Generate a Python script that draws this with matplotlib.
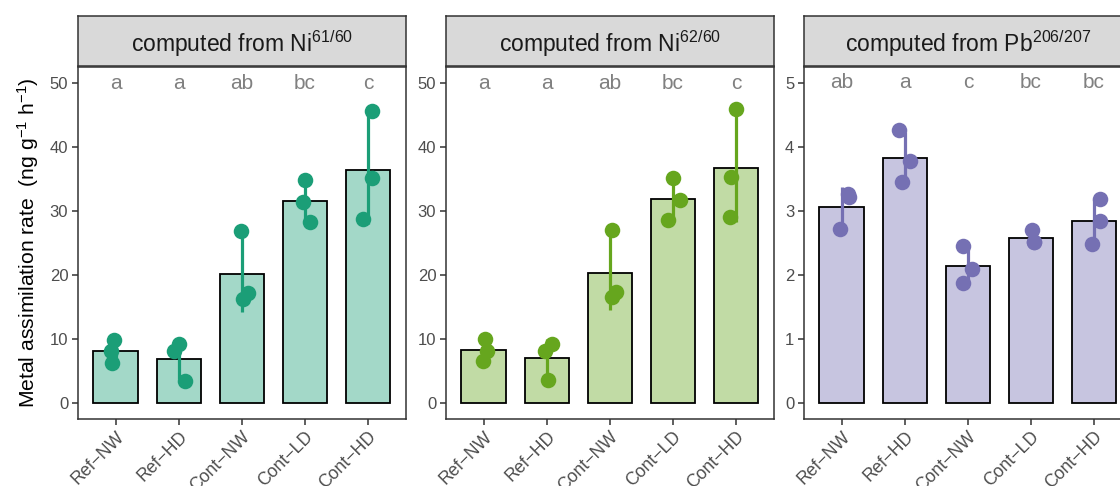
import matplotlib
matplotlib.use("Agg")
import matplotlib.pyplot as plt
import matplotlib.transforms as mtransforms
import numpy as np

plt.rcParams['font.family'] = ['Liberation Sans', 'DejaVu Sans']
plt.rcParams['mathtext.fontset'] = 'custom'
plt.rcParams['mathtext.rm'] = 'Liberation Sans'
plt.rcParams['mathtext.it'] = 'Liberation Sans:italic'
plt.rcParams['mathtext.bf'] = 'Liberation Sans:bold'

# Treatment groups
groups = ["Ref\u2212NW", "Ref\u2212HD", "Cont\u2212NW", "Cont\u2212LD", "Cont\u2212HD"]

# Replicate measurements (three per group)
ni61_values = [[9.87, 8.05, 6.30],
               [9.25, 8.15, 3.37],
               [26.86, 17.15, 16.30],
               [34.77, 31.43, 28.30],
               [45.57, 35.08, 28.73]]
ni62_values = [[9.98, 8.15, 6.49],
               [9.25, 8.15, 3.53],
               [27.07, 17.35, 16.62],
               [35.17, 31.74, 28.53],
               [45.93, 35.39, 29.05]]
pb_values = [[3.27, 3.22, 2.72],
             [4.26, 3.78, 3.46],
             [2.45, 2.10, 1.87],
             [2.71, 2.52, 2.51],
             [3.19, 2.84, 2.49]]

# Horizontal jitter of the replicate points
ni61_jitter = [[-0.03, -0.07, -0.05], [0.0, -0.07, 0.095], [-0.015, 0.105, 0.015],
               [0.0, -0.03, 0.085], [0.06, 0.06, -0.085]]
ni62_jitter = [[0.015, 0.05, -0.015], [0.085, -0.035, 0.025], [0.03, 0.09, 0.03],
               [-0.005, 0.105, -0.075], [-0.005, -0.085, -0.1]]
pb_jitter = [[0.095, 0.11, -0.02], [-0.09, 0.09, -0.04], [-0.07, 0.07, -0.07],
             [0.015, 0.04, 0.05], [0.09, 0.1, -0.03]]

# Significance letters
ni61_letters = ["a", "a", "ab", "bc", "c"]
ni62_letters = ["a", "a", "ab", "bc", "c"]
pb_letters = ["ab", "a", "c", "bc", "bc"]

panel_titles = ["computed from Ni$^{\\mathrm{61/60}}$",
                "computed from Ni$^{\\mathrm{62/60}}$",
                "computed from Pb$^{\\mathrm{206/207}}$"]
panel_colors = ["#1B9E77", "#66A61E", "#7570B3"]
panel_ymax = [50, 50, 5]
panel_ticks = [[0, 10, 20, 30, 40, 50], [0, 10, 20, 30, 40, 50], [0, 1, 2, 3, 4, 5]]

W, H = 1120, 486
fig = plt.figure(figsize=(W / 100, H / 100), dpi=100)

lefts = [77.7, 445.7, 803.7]
pw = 328.3
p_top, p_bot = 67.0, 419.0
s_top, s_bot = 15.7, 66.3

border = "#333333"
datasets = [(ni61_values, ni61_jitter, ni61_letters),
            (ni62_values, ni62_jitter, ni62_letters),
            (pb_values, pb_jitter, pb_letters)]

for i, (vals, jit, letters) in enumerate(datasets):
    ax = fig.add_axes([lefts[i] / W, (H - p_bot) / H, pw / W, (p_bot - p_top) / H])
    col = panel_colors[i]
    x = np.arange(len(groups))
    arr = np.array(vals)
    means = arr.mean(axis=1)
    sds = arr.std(axis=1, ddof=1)

    ax.bar(x, means, width=0.7, color=col, alpha=0.4, zorder=1)
    ax.bar(x, means, width=0.7, facecolor="none", edgecolor="black", linewidth=1.3, zorder=2)
    ax.vlines(x, means - sds, means + sds, color=col, linewidth=2.3, zorder=3)
    for k in range(len(groups)):
        ax.scatter(x[k] + np.array(jit[k]), arr[k], s=125, color=col, linewidths=0, zorder=4)
        ax.text(x[k], panel_ymax[i], letters[k], ha="center", va="center",
                fontsize=15, color="#808080", zorder=5)

    ymax = panel_ymax[i]
    ax.set_ylim(-0.05 * ymax, 1.05 * ymax)
    ax.set_xlim(-0.6, len(groups) - 0.4)
    ax.set_yticks(panel_ticks[i])
    ax.set_xticks(x)
    ax.set_xticklabels(groups, rotation=45, ha="right", va="top", rotation_mode="anchor",
                       fontsize=12.7)
    offset = mtransforms.ScaledTranslation(7 / 100, -7.5 / 100, fig.dpi_scale_trans)
    for lab in ax.get_xticklabels():
        lab.set_transform(lab.get_transform() + offset)
    ax.tick_params(axis="both", length=4.3, width=1.1, color=border,
                   labelcolor="#4D4D4D", pad=2.5)
    ax.tick_params(axis="y", labelsize=12)
    for sp in ax.spines.values():
        sp.set_color(border)
        sp.set_linewidth(1.1)

    # Facet strip
    sax = fig.add_axes([lefts[i] / W, (H - s_bot) / H, pw / W, (s_bot - s_top) / H])
    sax.set_facecolor("#D9D9D9")
    sax.set_xticks([])
    sax.set_yticks([])
    for sp in sax.spines.values():
        sp.set_color(border)
        sp.set_linewidth(1.1)
    sax.text(0.5, 0.44, panel_titles[i], transform=sax.transAxes, ha="center",
             va="center", fontsize=16.5, color="#1A1A1A")

    if i == 0:
        ax.set_ylabel("Metal assimilation rate  (ng g$^{-1}$ h$^{-1}$)", fontsize=15.2,
                      color="black", labelpad=6)

fig.savefig("out.png", dpi=100)
